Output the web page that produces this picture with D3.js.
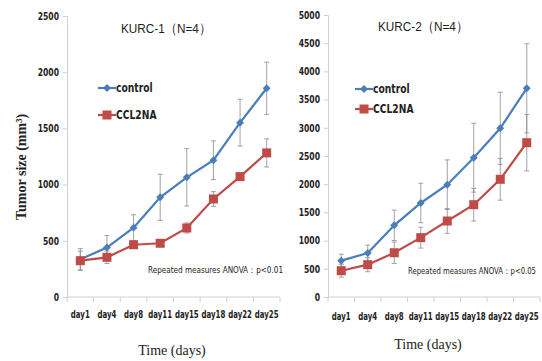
<!DOCTYPE html>
<html>
<head>
<meta charset="utf-8">
<script src="https://cdn.jsdelivr.net/npm/d3@7"></script>
<style>
  body { margin: 0; background: #fff; }
  svg { display: block; }
</style>
</head>
<body>
<div id="chart"></div>
<script>
const days = ['day1', 'day4', 'day8', 'day11', 'day15', 'day18', 'day22', 'day25'];

// KURC-1
const k1Control = [335, 440, 617, 887, 1065, 1217, 1551, 1857];
const k1ControlErr = [95, 107, 115, 205, 255, 172, 208, 232];
const k1Ccl2na = [323, 353, 465, 478, 614, 872, 1071, 1282];
const k1Ccl2naErr = [85, 55, 30, 25, 45, 65, 20, 125];
const k1Ticks = [0, 500, 1000, 1500, 2000, 2500];

// KURC-2
const k2Control = [644, 780, 1271, 1667, 1991, 2470, 2991, 3700];
const k2ControlErr = [115, 140, 270, 350, 440, 610, 640, 790];
const k2Ccl2na = [466, 573, 785, 1052, 1347, 1637, 2087, 2736];
const k2Ccl2naErr = [115, 125, 190, 185, 220, 290, 370, 500];
const k2Ticks = [0, 500, 1000, 1500, 2000, 2500, 3000, 3500, 4000, 4500, 5000];

const blue = '#4a7ebb', red = '#be4b48', axisColor = '#d0d0d0';
const tickFont = '"Liberation Sans Narrow", "DejaVu Sans Condensed", "DejaVu Sans", sans-serif';

const svg = d3.select('#chart').append('svg')
  .attr('width', 542).attr('height', 361);

// squeeze text horizontally (narrow font look)
function squeeze(sel, k) {
  sel.each(function () {
    const w = this.getComputedTextLength();
    d3.select(this).attr('textLength', w * k).attr('lengthAdjust', 'spacingAndGlyphs');
  });
}

function panel(opts) {
  const g = svg.append('g');
  const x = d3.scaleBand().domain(days).range([opts.x0, opts.x1]);
  const y = d3.scaleLinear().domain([0, opts.max]).range([297, opts.top]);

  // y axis
  const ya = g.append('g').attr('transform', `translate(${opts.x0},0)`)
    .call(d3.axisLeft(y).tickValues(opts.ticks).tickFormat(d3.format('d')).tickSize(4).tickPadding(4));
  ya.select('.domain').attr('stroke', axisColor);
  ya.selectAll('.tick line').attr('stroke', axisColor);
  ya.selectAll('text').attr('font-family', tickFont).attr('font-weight', 'bold')
    .attr('font-size', 10).attr('fill', '#222');
  squeeze(ya.selectAll('text'), 0.85);

  // x axis with ticks at category borders
  const xa = g.append('g').attr('transform', 'translate(0,297)');
  xa.append('line').attr('x1', opts.x0).attr('x2', opts.x1).attr('stroke', axisColor);
  xa.selectAll('line.b').data(days).join('line').attr('class', 'b')
    .attr('x1', d => x(d) + x.bandwidth()).attr('x2', d => x(d) + x.bandwidth())
    .attr('y1', 0).attr('y2', 5).attr('stroke', axisColor);
  xa.append('line').attr('x1', opts.x0).attr('x2', opts.x0).attr('y1', 0).attr('y2', 5).attr('stroke', axisColor);
  const xl = xa.selectAll('text').data(days).join('text')
    .attr('x', d => x(d) + x.bandwidth() / 2).attr('y', opts.labelY - 297)
    .attr('text-anchor', 'middle')
    .attr('font-family', tickFont).attr('font-weight', 'bold').attr('font-size', 10.5)
    .attr('fill', '#222').text(d => d);
  squeeze(xl, 0.74);

  const cx = d => x(d) + x.bandwidth() / 2;

  function series(vals, errs, color, marker) {
    const sg = g.append('g');
    // error bars
    sg.selectAll('g.err').data(days).join('g').attr('class', 'err').each(function (d, i) {
      const e = d3.select(this);
      const lo = y(vals[i] - errs[i]), hi = y(vals[i] + errs[i]);
      e.append('line').attr('x1', cx(d)).attr('x2', cx(d)).attr('y1', lo).attr('y2', hi)
        .attr('stroke', '#8c8c8c').attr('stroke-width', 0.8);
      [lo, hi].forEach(v => e.append('line').attr('x1', cx(d) - 2.5).attr('x2', cx(d) + 2.5)
        .attr('y1', v).attr('y2', v).attr('stroke', '#8c8c8c').attr('stroke-width', 0.8));
    });
    sg.append('path').datum(vals)
      .attr('d', d3.line().x((v, i) => cx(days[i])).y(v => y(v)))
      .attr('fill', 'none').attr('stroke', color).attr('stroke-width', 2.2);
    sg.selectAll('path.m').data(vals).join('path').attr('class', 'm')
      .attr('transform', (v, i) => `translate(${cx(days[i])},${y(v)})${marker === 'diamond' ? ' rotate(45)' : ''}`)
      .attr('d', marker === 'diamond' ? 'M-2.8,-2.8h5.6v5.6h-5.6z' : 'M-4.5,-4.5h9v9h-9z')
      .attr('fill', color);
  }
  series(opts.control, opts.controlErr, blue, 'diamond');
  series(opts.ccl2na, opts.ccl2naErr, red, 'square');

  // title
  const title = g.append('text').attr('x', opts.titleX).attr('y', opts.titleY).attr('text-anchor', 'middle')
    .attr('font-family', 'Liberation Sans, Arial, sans-serif').attr('font-size', 13.5)
    .attr('fill', '#222').text(opts.title);
  title.attr('textLength', opts.titleW).attr('lengthAdjust', 'spacingAndGlyphs');

  // legend
  const leg = [['control', blue, 'diamond'], ['CCL2NA', red, 'square']];
  leg.forEach((l, i) => {
    const ly = opts.legY[i];
    const lg = g.append('g');
    lg.append('line').attr('x1', opts.legX).attr('x2', opts.legX + 18).attr('y1', ly).attr('y2', ly)
      .attr('stroke', l[1]).attr('stroke-width', 2.2);
    lg.append('path').attr('transform', `translate(${opts.legX + 9},${ly})${l[2] === 'diamond' ? ' rotate(45)' : ''}`)
      .attr('d', l[2] === 'diamond' ? 'M-2.8,-2.8h5.6v5.6h-5.6z' : 'M-4.5,-4.5h9v9h-9z').attr('fill', l[1]);
    const t = lg.append('text').attr('x', opts.legX + 18).attr('y', ly + 4)
      .attr('font-family', tickFont).attr('font-weight', 'bold').attr('font-size', 12)
      .attr('fill', '#222').text(l[0]);
    squeeze(t, 0.85);
  });

  // annotation
  const note = g.append('text').attr('x', opts.noteX).attr('y', opts.noteY)
    .attr('font-family', tickFont).attr('font-size', 9).attr('fill', '#222')
    .text(opts.note);
  note.attr('textLength', opts.noteW).attr('lengthAdjust', 'spacingAndGlyphs');

  // x axis title
  g.append('text').attr('x', opts.timeX).attr('y', opts.timeY).attr('text-anchor', 'middle')
    .attr('font-family', '"Liberation Serif", "DejaVu Serif", serif').attr('font-size', 14)
    .attr('fill', '#222').text('Time (days)');
}

panel({
  x0: 67, x1: 280, top: 16, max: 2500, ticks: k1Ticks, labelY: 318,
  control: k1Control, controlErr: k1ControlErr, ccl2na: k1Ccl2na, ccl2naErr: k1Ccl2naErr,
  title: 'KURC-1（N=4）', titleX: 166, titleY: 33, titleW: 90,
  legX: 98, legY: [88, 115],
  note: 'Repeated measures ANOVA：p<0.01', noteX: 148, noteY: 273, noteW: 135,
  timeX: 172, timeY: 355
});

panel({
  x0: 328, x1: 540, top: 15, max: 5000, ticks: k2Ticks, labelY: 320,
  control: k2Control, controlErr: k2ControlErr, ccl2na: k2Ccl2na, ccl2naErr: k2Ccl2naErr,
  title: 'KURC-2（N=4）', titleX: 423, titleY: 31, titleW: 90,
  legX: 355, legY: [89, 109],
  note: 'Repeated measures ANOVA：p<0.05', noteX: 408, noteY: 274, noteW: 128,
  timeX: 428, timeY: 349
});

// y axis title
svg.append('text').attr('transform', 'translate(26,167) rotate(-90)').attr('text-anchor', 'middle')
  .attr('font-family', '"Liberation Serif", "DejaVu Serif", serif').attr('font-size', 14)
  .attr('font-weight', 'bold').attr('fill', '#222')
  .text('Tumor size (mm³)');
</script>
</body>
</html>
